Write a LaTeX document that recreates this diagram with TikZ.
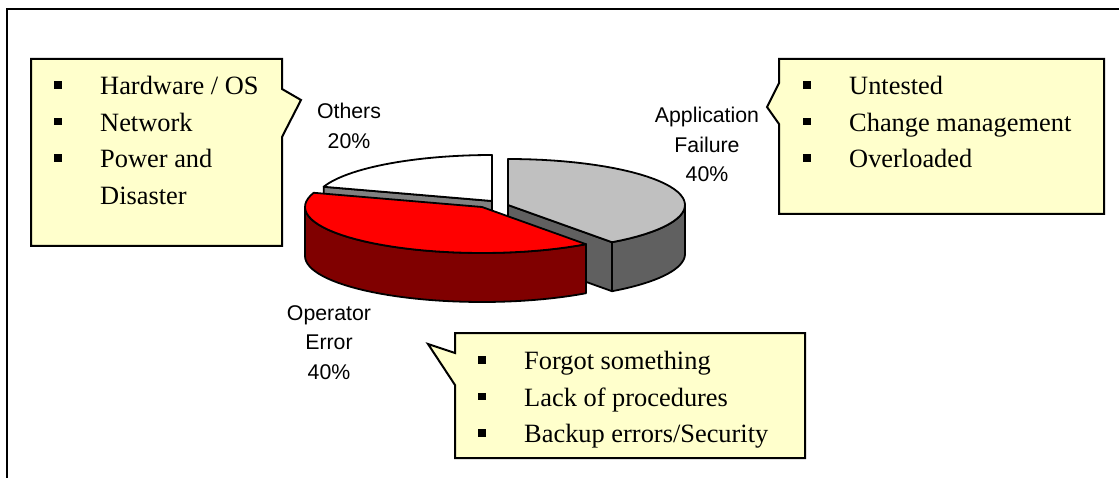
\documentclass[tikz,border=0pt]{standalone}
\usepackage{fontspec}
\setmainfont{Liberation Serif}
\setsansfont{Liberation Sans}
\usepackage{xcolor}
\usepackage{tikz}
\usetikzlibrary{positioning}
\definecolor{noteFill}{HTML}{FFFFCC}
\definecolor{appTop}{HTML}{C0C0C0}
\definecolor{appSide}{HTML}{606060}
\definecolor{opTop}{HTML}{FF0000}
\definecolor{opSide}{HTML}{800000}
\definecolor{othSide}{HTML}{808080}
\tikzset{
  balloon/.style={draw=black, line width=2pt, fill=noteFill, line join=miter},
  notelist/.style={anchor=north west, inner sep=0pt, align=left,
    font=\fontsize{26.4}{36.7}\selectfont},
  pielabel/.style={anchor=north, inner sep=0pt, align=center,
    font=\sffamily\fontsize{21.3}{29.6}\selectfont},
  slice/.style={draw=black, line width=1.8pt, line join=round},
}
% square bullet and one line of a note
\newcommand{\sqbullet}{\rule[6pt]{7.5pt}{7.5pt}}
\newcommand{\noteitem}[1]{\makebox[46pt][l]{\sqbullet}#1}
% pie: radii of the rim ellipse and thickness
\newcommand{\pieRx}{177}
\newcommand{\pieRy}{46}
\newcommand{\pieH}{49}

\begin{document}
\begin{tikzpicture}[x=1pt, y=-1pt]
  \path[fill=white, use as bounding box] (0,0) rectangle (1119,478);
  % frame
  \draw[line width=2pt] (7,478) -- (7,9) -- (1119,9);

  % Others 20% (back)
  \filldraw[slice, fill=othSide] (492,201) -- ({492+\pieRx*sin(288)},{201-\pieRy*cos(288)})
    -- ++(0,\pieH) -- (492,201+\pieH) -- cycle;
  \filldraw[slice, fill=white] (492,201)
    -- plot[domain=288:360, samples=30] ({492+\pieRx*sin(\x)},{201-\pieRy*cos(\x)}) -- cycle;

  % Application failure 40%, pulled out to the right
  \filldraw[slice, fill=appSide] (508,205) -- ({508+\pieRx*sin(144)},{205-\pieRy*cos(144)})
    -- ++(0,\pieH) -- (508,205+\pieH) -- cycle;
  \filldraw[slice, fill=appSide]
    plot[domain=90:144, samples=20] ({508+\pieRx*sin(\x)},{205-\pieRy*cos(\x)})
    -- plot[domain=144:90, samples=20] ({508+\pieRx*sin(\x)},{205+\pieH-\pieRy*cos(\x)}) -- cycle;
  \filldraw[slice, fill=appTop] (508,205)
    -- plot[domain=0:144, samples=40] ({508+\pieRx*sin(\x)},{205-\pieRy*cos(\x)}) -- cycle;

  % Operator error 40% (front)
  \filldraw[slice, fill=opSide]
    plot[domain=144:270, samples=40] ({482+\pieRx*sin(\x)},{207-\pieRy*cos(\x)})
    -- plot[domain=270:144, samples=40] ({482+\pieRx*sin(\x)},{207+\pieH-\pieRy*cos(\x)}) -- cycle;
  \filldraw[slice, fill=opTop] (482,207)
    -- plot[domain=144:288, samples=40] ({482+\pieRx*sin(\x)},{207-\pieRy*cos(\x)}) -- cycle;

  % slice labels
  \node[pielabel] (othlbl) at (349,103) {Others\\20\%};
  \node[pielabel] (applbl) at (707,107) {Application\\Failure\\40\%};
  \node[pielabel] (oplbl) at (329,305) {Operator\\Error\\40\%};

  % notes
  \coordinate (hwtip) at (301,100);
  \draw[balloon] (31,59) -- (282,59) -- (282,89) -- (hwtip) -- (282,137) -- (282,246)
    -- (31,246) -- cycle;
  \node[notelist] (hwlist) at (54,76)
    {\noteitem{Hardware / OS}\\\noteitem{Network}\\\noteitem{Power and}\\\makebox[46pt]{}Disaster};

  \coordinate (apptip) at (767,107);
  \draw[balloon] (779,59) -- (1104,59) -- (1104,214) -- (779,214) -- (779,124) -- (apptip)
    -- (779,83) -- cycle;
  \node[notelist] (applist) at (803,76)
    {\noteitem{Untested}\\\noteitem{Change management}\\\noteitem{Overloaded}};

  \coordinate (optip) at (428,344);
  \draw[balloon] (455,333) -- (805,333) -- (805,458) -- (455,458) -- (455,385) -- (optip)
    -- (455,353) -- cycle;
  \node[notelist] (oplist) at (478,351)
    {\noteitem{Forgot something}\\\noteitem{Lack of procedures}\\\noteitem{Backup errors/Security}};
\end{tikzpicture}
\end{document}
